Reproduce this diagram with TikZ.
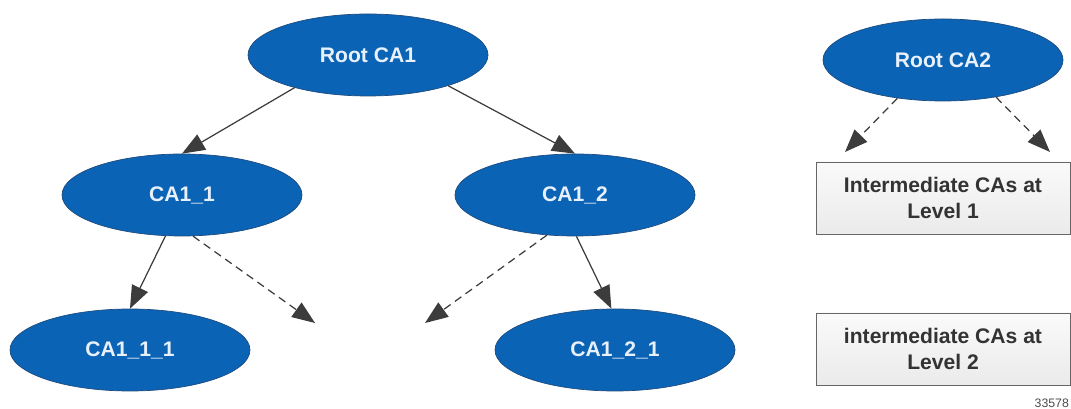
\documentclass[tikz,border=0pt]{standalone}
\usepackage{fontspec}
\setmainfont{Liberation Sans}
\usetikzlibrary{shapes.geometric,positioning,arrows.meta}
\definecolor{cablue}{HTML}{0B63B5}
\definecolor{caedge}{HTML}{1E4C7E}
\definecolor{catext}{HTML}{E8F1FB}
\definecolor{linegray}{HTML}{3C3C3C}

\begin{document}
\begin{tikzpicture}[on grid,
    ca/.style={ellipse,draw=caedge,fill=cablue,text=catext,font=\bfseries\fontsize{12}{14}\selectfont,
      minimum width=4.8cm,minimum height=1.64cm,inner sep=0pt},
    levelbox/.style={rectangle,draw=gray!80!black,top color=gray!4,bottom color=gray!16,text=black!80,
      font=\bfseries\fontsize{12}{15}\selectfont,align=center,minimum width=5.08cm,minimum height=1.44cm},
    link/.style={-{Triangle[length=13pt,width=10pt]},color=linegray,line width=0.7pt},
    maybe/.style={link,dash pattern=on 4.5pt off 3pt}]
			\useasboundingbox (0,0) rectangle (21.42,-8.18);
			% tree of root CA1
			\node[ca] (root1) at (7.36,-1.10) {Root CA1};
			\node[ca] (ca11) [below left=2.8cm and 3.72cm of root1] {CA1\_1};
			\node[ca] (ca12) [below right=2.8cm and 4.14cm of root1] {CA1\_2};
			\node[ca] (ca111) [below left=3.1cm and 1.04cm of ca11] {CA1\_1\_1};
			\node[ca] (ca121) [below right=3.1cm and 0.8cm of ca12] {CA1\_2\_1};
			\coordinate[below right=2.56cm and 2.66cm of ca11] (loose1);
			\coordinate[below left=2.56cm and 3cm of ca12] (loose2);
			% root CA2 and its levels
			\node[ca] (root2) at (18.86,-1.20) {Root CA2};
			\node[levelbox] (lvl1) [below=2.76cm of root2] {Intermediate CAs at\\Level 1};
			\node[levelbox] (lvl2) [below=3.02cm of lvl1] {intermediate CAs at\\Level 2};
			\coordinate[below left=1.84cm and 1.96cm of root2] (loose3);
			\coordinate[below right=1.84cm and 2.14cm of root2] (loose4);
			\node[anchor=east,text=black!70,font=\fontsize{7}{8}\selectfont,inner sep=1pt] (fig) at (21.42,-8.06) {33578};
			\path[link]
			(root1.204) edge (ca11.north)
			(root1.339) edge (ca12.north)
			(ca11.-112) edge (ca111.north)
			(ca12.-88) edge (ca121.95);
			\path[maybe]
			(ca11.-75) edge (loose1)
			(ca12.-125) edge (loose2)
			(root2.-140) edge (loose3)
			(root2.-35) edge (loose4);
		\end{tikzpicture}
\end{document}
